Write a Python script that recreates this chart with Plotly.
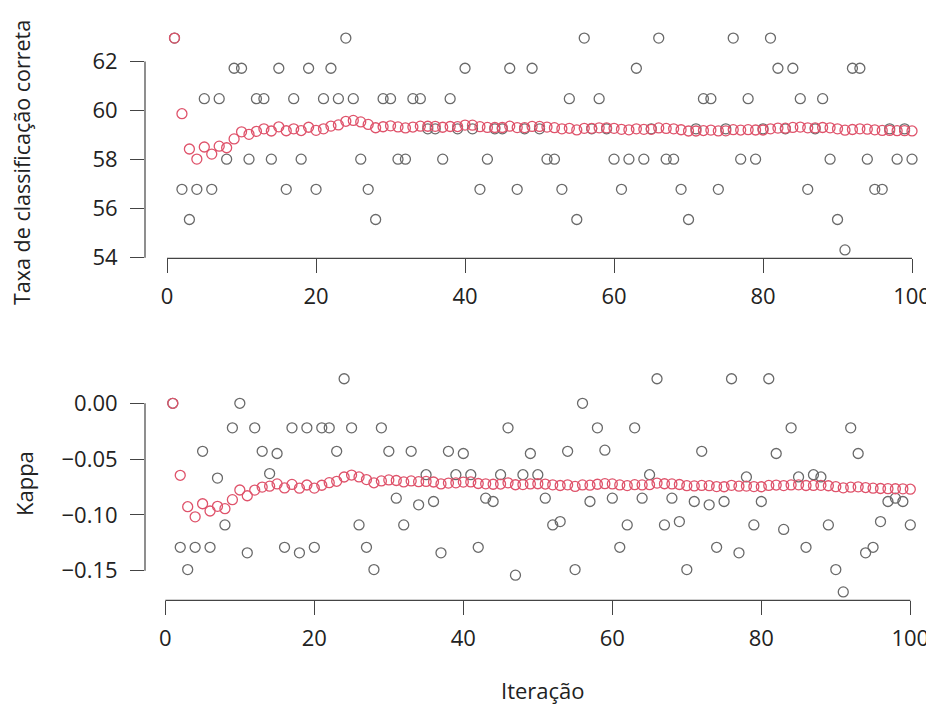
import numpy as np
import plotly.graph_objects as go

# ---- data ----
iteracao = list(range(1, 101))

taxa = [
    62.96, 56.79, 55.56, 56.79, 60.49, 56.79, 60.49, 58.02, 61.73, 61.73,
    58.02, 60.49, 60.49, 58.02, 61.73, 56.79, 60.49, 58.02, 61.73, 56.79,
    60.49, 61.73, 60.49, 62.96, 60.49, 58.02, 56.79, 55.56, 60.49, 60.49,
    58.02, 58.02, 60.49, 60.49, 59.26, 59.26, 58.02, 60.49, 59.26, 61.73,
    59.26, 56.79, 58.02, 59.26, 59.26, 61.73, 56.79, 59.26, 61.73, 59.26,
    58.02, 58.02, 56.79, 60.49, 55.56, 62.96, 59.26, 60.49, 59.26, 58.02,
    56.79, 58.02, 61.73, 58.02, 59.26, 62.96, 58.02, 58.02, 56.79, 55.56,
    59.26, 60.49, 60.49, 56.79, 59.26, 62.96, 58.02, 60.49, 58.02, 59.26,
    62.96, 61.73, 59.26, 61.73, 60.49, 56.79, 59.26, 60.49, 58.02, 55.56,
    54.32, 61.73, 61.73, 58.02, 56.79, 56.79, 59.26, 58.02, 59.26, 58.02,
]

kappa = [
    0.000, -0.129, -0.149, -0.129, -0.043, -0.129, -0.067, -0.109, -0.022, 0.000,
    -0.134, -0.022, -0.043, -0.063, -0.045, -0.129, -0.022, -0.134, -0.022, -0.129,
    -0.022, -0.022, -0.043, 0.022, -0.022, -0.109, -0.129, -0.149, -0.022, -0.043,
    -0.085, -0.109, -0.043, -0.091, -0.064, -0.088, -0.134, -0.043, -0.064, -0.045,
    -0.064, -0.129, -0.085, -0.088, -0.064, -0.022, -0.154, -0.064, -0.045, -0.064,
    -0.085, -0.109, -0.106, -0.043, -0.149, 0.000, -0.088, -0.022, -0.042, -0.085,
    -0.129, -0.109, -0.022, -0.085, -0.064, 0.022, -0.109, -0.085, -0.106, -0.149,
    -0.088, -0.043, -0.091, -0.129, -0.088, 0.022, -0.134, -0.066, -0.109, -0.088,
    0.022, -0.045, -0.113, -0.022, -0.066, -0.129, -0.064, -0.066, -0.109, -0.149,
    -0.169, -0.022, -0.045, -0.134, -0.129, -0.106, -0.088, -0.085, -0.088, -0.109,
]

x_ticks = [0, 20, 40, 60, 80, 100]
taxa_ticks = [54, 56, 58, 60, 62]
kappa_ticks = [0.00, -0.05, -0.10, -0.15]
kappa_ticktext = ["0.00", "\u22120.05", "\u22120.10", "\u22120.15"]

# running (cumulative) mean of each series, as drawn in red
taxa_media = list(np.cumsum(taxa) / np.arange(1, len(taxa) + 1))
kappa_media = list(np.cumsum(kappa) / np.arange(1, len(kappa) + 1))

GREY = "#6a6a6a"
RED = "#DF536B"
AX = "#444444"
FONT = "Open Sans"
FS = 22

# the page adds an 8px body margin, so the figure is 8px smaller than the window
W, H = 926, 698
OFF = 8
L = 137
PW = W - L

def py(target):  # window pixel y -> paper fraction
    return 1 - (target - OFF) / H

def px(target):  # window pixel x -> paper fraction
    return (target - OFF - L) / PW

fig = go.Figure()

def circles(x, y, color, xa, ya):
    return go.Scatter(
        x=x, y=y, mode="markers", xaxis=xa, yaxis=ya, showlegend=False,
        marker=dict(symbol="circle-open", size=10, color=color,
                    line=dict(width=1.3, color=color)),
        hoverinfo="skip",
    )

fig.add_trace(circles(iteracao, taxa, GREY, "x", "y"))
fig.add_trace(circles(iteracao, taxa_media, RED, "x", "y"))
fig.add_trace(circles(iteracao, kappa, GREY, "x2", "y2"))
fig.add_trace(circles(iteracao, kappa_media, RED, "x2", "y2"))

tickfont = dict(family=FONT, size=FS, color="#222222")

xcommon = dict(
    showgrid=False, zeroline=False, showline=False, automargin=False,
    ticks="outside", ticklen=14, tickwidth=1.2, tickcolor=AX,
    tickvals=x_ticks, tickfont=tickfont, ticklabelstandoff=4,
)
ycommon = dict(
    showgrid=False, zeroline=False, showline=False, automargin=False,
    ticks="outside", ticklen=14, tickwidth=1.2, tickcolor=AX,
    tickfont=tickfont, ticklabelstandoff=8,
)

fig.update_layout(
    width=W, height=H,
    margin=dict(l=L, r=0, t=0, b=0, autoexpand=False),
    paper_bgcolor="white", plot_bgcolor="white",
    font=dict(family=FONT, size=FS, color="#222222"),
    xaxis=dict(domain=[0, 1], range=[-2.96, 102.95], anchor="y", **xcommon),
    yaxis=dict(domain=[py(258.4), py(29.6)], range=[53.974, 63.306], anchor="x",
               tickvals=taxa_ticks, **ycommon),
    xaxis2=dict(domain=[0, 1], range=[-2.73, 103.18], anchor="y2", **xcommon),
    yaxis2=dict(domain=[py(600.3), py(369.8)], range=[-0.1765, 0.0300], anchor="x2",
                tickvals=kappa_ticks, ticktext=kappa_ticktext, **ycommon),
)

# R-style axis lines spanning only the tick range
line = dict(color=AX, width=1.2)
fig.add_shape(type="line", xref="x", yref="y domain", x0=x_ticks[0], x1=x_ticks[-1], y0=0, y1=0, line=line)
fig.add_shape(type="line", xref="x domain", yref="y", x0=0, x1=0, y0=taxa_ticks[0], y1=taxa_ticks[-1], line=line)
fig.add_shape(type="line", xref="x2", yref="y2 domain", x0=x_ticks[0], x1=x_ticks[-1], y0=0, y1=0, line=line)
fig.add_shape(type="line", xref="x2 domain", yref="y2", x0=0, x1=0, y0=kappa_ticks[-1], y1=kappa_ticks[0], line=line)

labfont = dict(family=FONT, size=FS, color="#222222")
fig.add_annotation(text="Taxa de classificação correta", xref="paper", yref="paper",
                   x=px(21), y=py(163), textangle=-90,
                   showarrow=False, font=dict(family=FONT, size=21.5, color="#222222"),
                   xanchor="center", yanchor="middle")
fig.add_annotation(text="Kappa", xref="paper", yref="paper",
                   x=px(24), y=py(484), textangle=-90,
                   showarrow=False, font=labfont, xanchor="center", yanchor="middle")
fig.add_annotation(text="Iteração", xref="paper", yref="paper",
                   x=px(543), y=py(690),
                   showarrow=False, font=labfont, xanchor="center", yanchor="middle")

fig.write_html("out.html")
